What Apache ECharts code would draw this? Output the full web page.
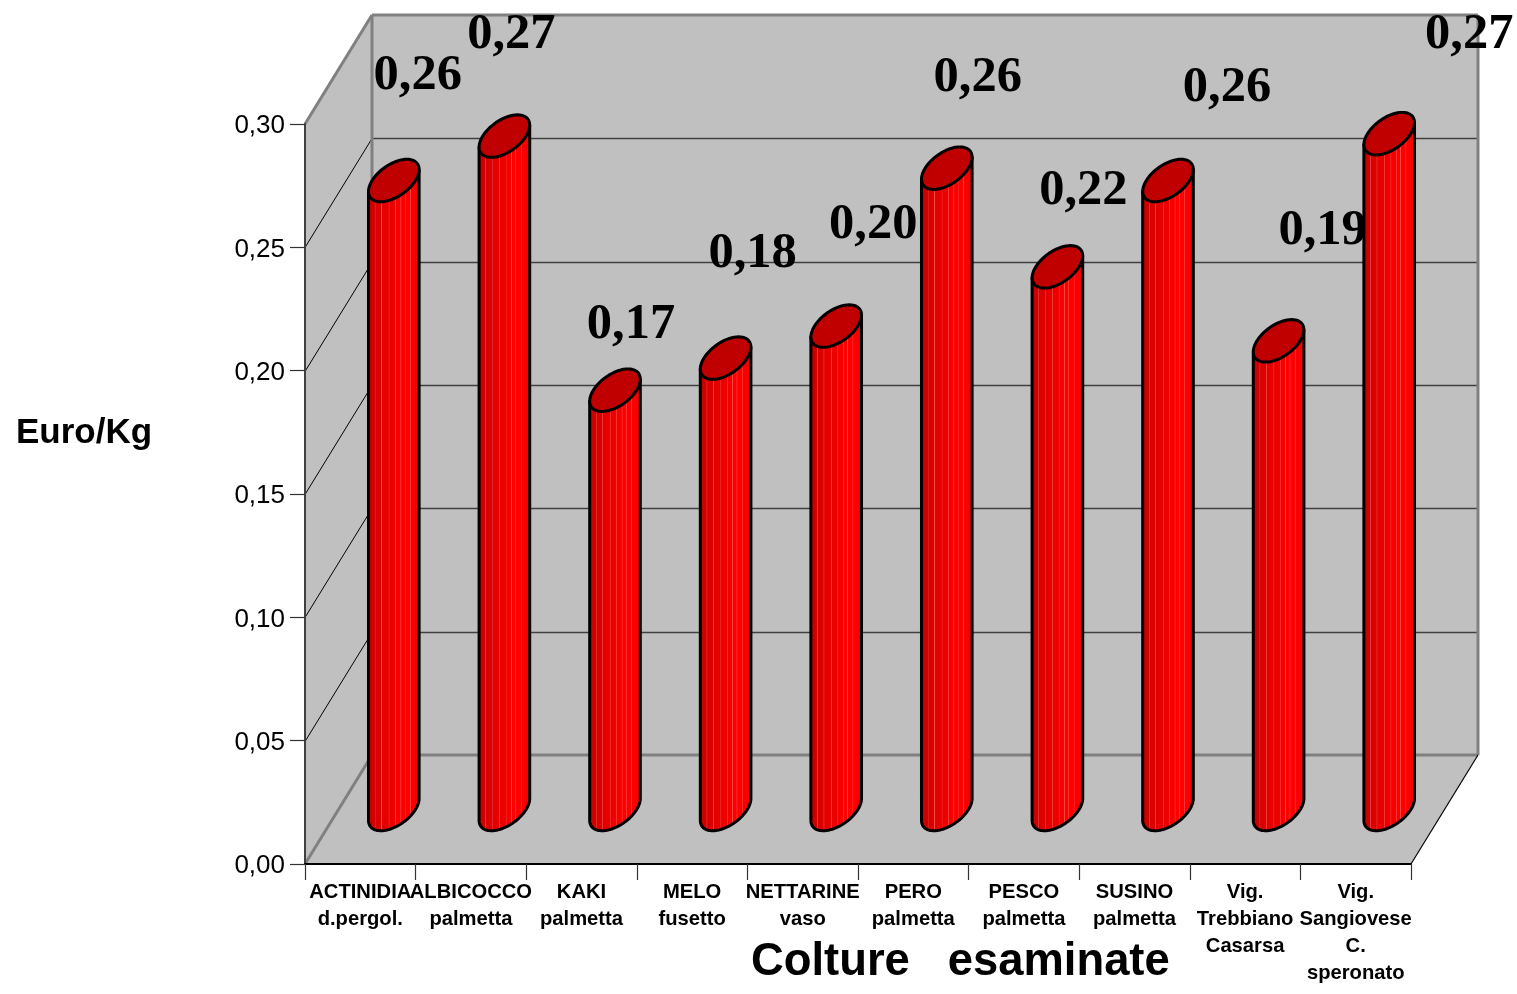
<!DOCTYPE html>
<html>
<head>
<meta charset="utf-8">
<style>html,body{margin:0;padding:0;background:#fff}#c{width:1517px;height:994px}</style>
<script src="https://cdn.jsdelivr.net/npm/echarts@6/dist/echarts.min.js"></script>
</head>
<body>
<div id="c"></div>
<script>
const categories = ['ACTINIDIA\nd.pergol.','ALBICOCCO\npalmetta','KAKI\npalmetta','MELO\nfusetto','NETTARINE\nvaso','PERO\npalmetta','PESCO\npalmetta','SUSINO\npalmetta','Vig.\nTrebbiano\nCasarsa','Vig.\nSangiovese\nC.\nsperonato'];
const values = [0.255,0.273,0.170,0.183,0.196,0.260,0.220,0.255,0.190,0.274];
const valueLabels = ['0,26','0,27','0,17','0,18','0,20','0,26','0,22','0,26','0,19','0,27'];
const yTicks = [0,0.05,0.10,0.15,0.20,0.25,0.30];
const labelOffsets = [[24,-105],[7,-101],[16,-65],[27,-104],[37,-101],[31,-90],[26,-76],[59,-93],[44,-110],[80,-99]];

const DEPTH = [67,-109];
const chart = echarts.init(document.getElementById('c'));

function wallItem(params, api){
  const n = categories.length;
  const p0 = api.coord([0,0]);
  const bw = api.size([1,0])[0];
  const x0 = p0[0]-bw/2, x1 = x0+bw*n, y0 = p0[1], yT = api.coord([0,0.30])[1];
  const dx = DEPTH[0], dy = DEPTH[1];
  const fill = {fill:'#c0c0c0',stroke:null};
  const line = (a,b,c,d,stroke,w)=>({type:'line',shape:{x1:a,y1:b,x2:c,y2:d},style:{stroke,lineWidth:w}});
  const children = [
    {type:'polygon',shape:{points:[[x0+dx,yT+dy],[x1+dx,yT+dy],[x1+dx,y0+dy],[x0+dx,y0+dy]]},style:fill},
    {type:'polygon',shape:{points:[[x0,yT],[x0+dx,yT+dy],[x0+dx,y0+dy],[x0,y0]]},style:fill},
    {type:'polygon',shape:{points:[[x0,y0],[x0+dx,y0+dy],[x1+dx,y0+dy],[x1,y0]]},style:fill}
  ];
  yTicks.forEach(t=>{
    if(t===0||t===0.30) return;
    const y = Math.round(api.coord([0,t])[1]);
    children.push(line(x0,y+.5,x0+dx,y+dy+.5,'#000',1));
    children.push(line(x0+dx,y+dy+.5,x1+dx,y+dy+.5,'#404040',1.5));
  });
  const g='#808080';
  children.push(line(x0+dx,yT+dy,x1+dx,yT+dy,g,3));
  children.push(line(x1+dx,yT+dy,x1+dx,y0+dy,g,3));
  children.push(line(x0+dx,y0+dy,x1+dx,y0+dy,g,3));
  children.push(line(x0+dx,yT+dy,x0+dx,y0+dy,g,3));
  children.push(line(x0,yT,x0+dx,yT+dy,g,3));
  children.push(line(x0,y0,x0+dx,y0+dy,g,3));
  children.push(line(x1,y0,x1+dx,y0+dy,'#000',1.2));
  return {type:'group',children};
}

const barStops = [
  [0,'#b80000'],[.06,'#c80000'],[.14,'#d40000'],[.15,'#e04040'],[.165,'#d80000'],[.26,'#de0000'],[.27,'#ec5050'],[.285,'#e20000'],
  [.40,'#e80000'],[.41,'#f04040'],[.425,'#ea0000'],[.52,'#f00000'],[.53,'#f84040'],[.545,'#f40000'],[.62,'#fa0000'],[.63,'#ff5050'],
  [.645,'#fc0000'],[.70,'#ff0000'],[.71,'#ff4848'],[.725,'#ff0000'],[.80,'#ff0000'],[.81,'#ff4040'],[.825,'#fc0000'],[.90,'#f80000'],[1,'#f00000']
].map(s=>({offset:s[0],color:s[1]}));

function ellipsePts(cx,cy,a,bx,by,from,to,steps){
  const pts=[];
  for(let k=0;k<=steps;k++){
    const t=from+(to-from)*k/steps;
    pts.push([cx+a*Math.cos(t)+bx*Math.sin(t), cy+by*Math.sin(t)]);
  }
  return pts;
}

function barItem(params, api){
  const idx = api.value(0), v = api.value(1);
  const bw = api.size([1,0])[0];
  const base = api.coord([idx,0]);
  const top = api.coord([idx,v]);
  const ox = DEPTH[0]/2, oy = DEPTH[1]/2;
  const cx = base[0]+ox, cyB = base[1]+oy, cyT = top[1]+oy;
  const by = DEPTH[1]*0.195, bx = DEPTH[0]*0.195;
  const a = bw*0.196;
  const t0 = Math.atan2(bx,a);
  const lower = ellipsePts(cx,cyB,a,bx,by,t0,t0-Math.PI,48).reverse();
  const tR = [cx+a*Math.cos(t0)+bx*Math.sin(t0), cyT+by*Math.sin(t0)];
  const tL = [cx-a*Math.cos(t0)-bx*Math.sin(t0), cyT-by*Math.sin(t0)];
  const body = [tL].concat(lower).concat([tR]);
  return {type:'group',children:[
    {type:'polygon',shape:{points:body},style:{
      fill:new echarts.graphic.LinearGradient(0,0,1,0,barStops),stroke:'#000',lineWidth:3,lineJoin:'round'}},
    {type:'polygon',shape:{points:ellipsePts(cx,cyT,a,bx,by,0,Math.PI*2,64)},style:{fill:'#c00000',stroke:'#000',lineWidth:3,lineJoin:'round'}}
  ]};
}

function labelItem(params, api){
  const idx = api.value(0), v = api.value(1);
  const top = api.coord([idx,v]);
  const off = labelOffsets[params.dataIndex];
  return {type:'text',style:{
    text:valueLabels[params.dataIndex],
    x:top[0]+DEPTH[0]/2+off[0], y:top[1]+DEPTH[1]/2+off[1],
    align:'center',verticalAlign:'middle',
    font:'bold 50.5px "Liberation Serif"',fill:'#000'}};
}

const rows = values.map((v,i)=>[i,v]);
chart.setOption({
  animation:false,
  backgroundColor:'#fff',
  textStyle:{fontFamily:'Liberation Sans'},
  grid:{left:305,top:124,width:1106,height:740,containLabel:false},
  xAxis:{type:'category',data:categories,z:3,boundaryGap:true,
    axisLine:{show:true,lineStyle:{color:'#000',width:2}},
    axisTick:{show:true,alignWithLabel:false,interval:0,length:16,lineStyle:{color:'#333',width:1.2}},
    axisLabel:{interval:0,hideOverlap:false,margin:15,color:'#000',fontFamily:'Liberation Sans',fontWeight:'bold',fontSize:20.2,lineHeight:27,align:'center',verticalAlign:'top'},
    splitLine:{show:false}},
  yAxis:{type:'value',min:0,max:0.30,interval:0.05,z:3,
    axisLine:{show:true,lineStyle:{color:'#404040',width:2}},
    axisTick:{show:true,length:15,lineStyle:{color:'#333',width:1.2}},
    axisLabel:{margin:20,formatter:v=>'{t|'+v.toFixed(2).replace('.',',')+'}',
      rich:{t:{color:'#000',fontFamily:'Liberation Sans',fontSize:26,padding:[4,0,0,0]}}},
    splitLine:{show:false}},
  graphic:[
    {type:'text',left:16,top:416,z:20,style:{text:'Euro/Kg',font:'bold 35px "Liberation Sans"',fill:'#000'}},
    {type:'text',left:751,top:940,z:20,style:{text:'Colture   esaminate',font:'bold 45.4px "Liberation Sans"',fill:'#000'}}
  ],
  series:[
    {type:'custom',z:1,clip:false,silent:true,data:[[0,0]],encode:{x:0,y:1},renderItem:wallItem},
    {type:'custom',z:5,clip:false,silent:true,data:rows,encode:{x:0,y:1},renderItem:barItem},
    {type:'custom',z:10,clip:false,silent:true,data:rows,encode:{x:0,y:1},renderItem:labelItem}
  ]
});
</script>
</body>
</html>
